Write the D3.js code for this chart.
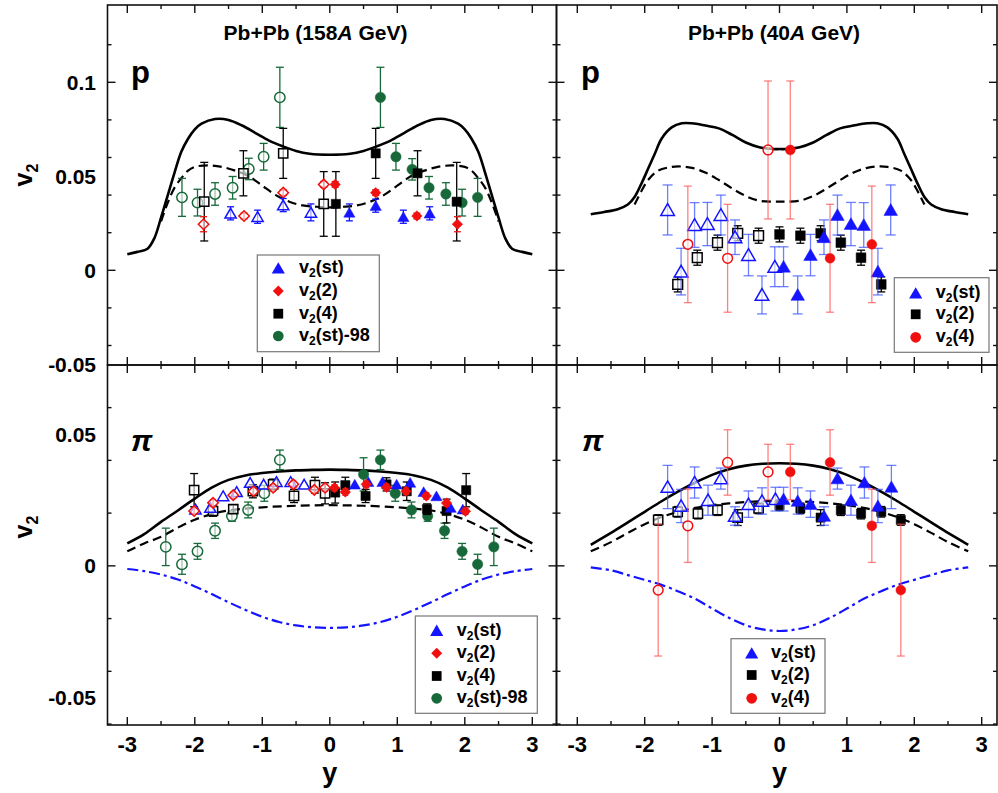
<!DOCTYPE html>
<html>
<head>
<meta charset="utf-8">
<script src="https://cdn.jsdelivr.net/npm/d3@7"></script>
<style>
  html, body { margin: 0; padding: 0; background: #fff; }
  svg text { font-family: "Liberation Sans", Arial, Helvetica, sans-serif; font-weight: bold; }
</style>
</head>
<body>
<svg id="fig" width="998" height="793"></svg>
<script>
// ---- tick labels ----
const xTickLabels = ["-3", "-2", "-1", "0", "1", "2", "3"];
const yTopTickLabels = ["-0.05", "0", "0.05", "0.1"];
const yBotTickLabels = ["-0.05", "0", "0.05"];

// ---- model curves: [rapidity y, v2] ----
const p158Solid = [[-3.0,0.0085],[-2.85,0.0098],[-2.7,0.0115],[-2.6,0.017],[-2.5,0.028],[-2.4,0.040],[-2.3,0.052],[-2.2,0.063],[-2.1,0.070],[-2.0,0.075],[-1.9,0.078],[-1.7,0.0805],[-1.5,0.080],[-1.3,0.077],[-1.1,0.073],[-0.9,0.069],[-0.7,0.066],[-0.5,0.0635],[-0.3,0.062],[0,0.0615],
  [0.3,0.062],[0.5,0.0635],[0.7,0.066],[0.9,0.069],[1.1,0.073],[1.3,0.077],[1.5,0.080],[1.7,0.0805],[1.9,0.078],[2.0,0.075],[2.1,0.070],[2.2,0.063],[2.3,0.052],[2.4,0.040],[2.5,0.028],[2.6,0.017],[2.7,0.0115],[2.85,0.0098],[3.0,0.0085]];
const p158Dash = [[-2.5,0.026],[-2.4,0.036],[-2.3,0.044],[-2.2,0.049],[-2.1,0.053],[-2.0,0.055],[-1.8,0.0558],[-1.6,0.055],[-1.4,0.053],[-1.2,0.050],[-1.0,0.045],[-0.8,0.040],[-0.6,0.0365],[-0.4,0.0345],[-0.2,0.0338],[0,0.0335],
  [0.2,0.0338],[0.4,0.0345],[0.6,0.0365],[0.8,0.040],[1.0,0.045],[1.2,0.050],[1.4,0.053],[1.6,0.055],[1.8,0.0558],[2.0,0.055],[2.1,0.053],[2.2,0.049],[2.3,0.044],[2.4,0.036],[2.5,0.026]];
const p40Solid = [[-2.8,0.0298],[-2.6,0.031],[-2.4,0.0325],[-2.25,0.035],[-2.15,0.039],[-2.05,0.046],[-1.95,0.054],[-1.85,0.062],[-1.75,0.070],[-1.6,0.076],[-1.45,0.0782],[-1.3,0.0782],[-1.1,0.077],[-0.9,0.0755],[-0.7,0.072],[-0.5,0.068],[-0.3,0.0655],[-0.1,0.0645],[0,0.0645],
  [0.1,0.0645],[0.3,0.0655],[0.5,0.068],[0.7,0.072],[0.9,0.0755],[1.1,0.077],[1.3,0.0782],[1.45,0.0782],[1.6,0.076],[1.75,0.070],[1.85,0.062],[1.95,0.054],[2.05,0.046],[2.15,0.039],[2.25,0.035],[2.4,0.0325],[2.6,0.031],[2.8,0.0298]];
const p40Dash = [[-2.15,0.035],[-2.05,0.042],[-1.95,0.048],[-1.8,0.053],[-1.6,0.055],[-1.45,0.0552],[-1.3,0.0545],[-1.1,0.052],[-0.9,0.048],[-0.7,0.0435],[-0.5,0.0395],[-0.3,0.037],[-0.1,0.0365],[0,0.0365],
  [0.1,0.0365],[0.3,0.037],[0.5,0.0395],[0.7,0.0435],[0.9,0.048],[1.1,0.052],[1.3,0.0545],[1.45,0.0552],[1.6,0.055],[1.8,0.053],[1.95,0.048],[2.05,0.042],[2.15,0.035]];
const pi158Solid = [[-3,0.0085],[-2.75,0.012],[-2.5,0.0167],[-2.25,0.021],[-2.0,0.0255],[-1.75,0.0297],[-1.5,0.0326],[-1.25,0.0343],[-1.0,0.0352],[-0.75,0.0358],[-0.5,0.0362],[-0.25,0.0364],[0,0.0365],
  [0.25,0.0364],[0.5,0.0362],[0.75,0.0358],[1.0,0.0352],[1.25,0.0343],[1.5,0.0326],[1.75,0.0297],[2.0,0.0255],[2.25,0.021],[2.5,0.0167],[2.75,0.012],[3,0.0085]];
const pi158Dash = [[-3,0.0055],[-2.75,0.0085],[-2.5,0.011],[-2.25,0.0145],[-2.0,0.0175],[-1.75,0.0196],[-1.5,0.021],[-1.25,0.0217],[-1.0,0.0222],[-0.5,0.0228],[0,0.023],
  [0.5,0.0228],[1.0,0.0222],[1.25,0.0217],[1.5,0.021],[1.75,0.0196],[2.0,0.0175],[2.25,0.0145],[2.5,0.011],[2.75,0.0085],[3,0.0055]];
const pi158DashDot = [[-3,-0.0012],[-2.75,-0.002],[-2.5,-0.0033],[-2.25,-0.0052],[-2.0,-0.0078],[-1.75,-0.0107],[-1.5,-0.0138],[-1.25,-0.0167],[-1.0,-0.0193],[-0.75,-0.0213],[-0.5,-0.0226],[-0.25,-0.0233],[0,-0.0235],
  [0.25,-0.0233],[0.5,-0.0226],[0.75,-0.0213],[1.0,-0.0193],[1.25,-0.0167],[1.5,-0.0138],[1.75,-0.0107],[2.0,-0.0078],[2.25,-0.0052],[2.5,-0.0033],[2.75,-0.002],[3,-0.0012]];
const pi40Solid = [[-2.8,0.008],[-2.5,0.0125],[-2.25,0.0165],[-2.0,0.0205],[-1.75,0.0245],[-1.5,0.0282],[-1.25,0.0316],[-1.0,0.0345],[-0.75,0.0366],[-0.5,0.038],[-0.25,0.0387],[0,0.0389],
  [0.25,0.0387],[0.5,0.038],[0.75,0.0366],[1.0,0.0345],[1.25,0.0316],[1.5,0.0282],[1.75,0.0245],[2.0,0.0205],[2.25,0.0165],[2.5,0.0125],[2.8,0.008]];
const pi40Dash = [[-2.8,0.0055],[-2.5,0.009],[-2.25,0.0125],[-2.0,0.0158],[-1.75,0.0185],[-1.5,0.0205],[-1.25,0.022],[-1.0,0.023],[-0.75,0.0237],[-0.5,0.0242],[-0.25,0.0245],[0,0.0246],
  [0.25,0.0245],[0.5,0.0242],[0.75,0.0237],[1.0,0.023],[1.25,0.022],[1.5,0.0205],[1.75,0.0185],[2.0,0.0158],[2.25,0.0125],[2.5,0.009],[2.8,0.0055]];
const pi40DashDot = [[-2.8,-0.0006],[-2.5,-0.0017],[-2.25,-0.0035],[-2.0,-0.0053],[-1.75,-0.0072],[-1.5,-0.0097],[-1.25,-0.0125],[-1.0,-0.0162],[-0.75,-0.0197],[-0.5,-0.0225],[-0.25,-0.0241],[0,-0.0247],
  [0.25,-0.0241],[0.5,-0.0225],[0.75,-0.0197],[1.0,-0.0162],[1.25,-0.0125],[1.5,-0.0097],[1.75,-0.0072],[2.0,-0.0053],[2.25,-0.0035],[2.5,-0.0017],[2.8,-0.0006]];

// ---- measured points: [rapidity y, v2, error]; points at y < 0 are reflected (open symbols) ----
const p158St = [[-1.47,0.0303,0.0035],[-1.07,0.0285,0.0035],[-0.69,0.0347,0.0035],[-0.28,0.0308,0.0045],[0.29,0.0308,0.0045],[0.68,0.0344,0.0035],[1.09,0.0285,0.0035],[1.48,0.0303,0.0035]];
const p158V22 = [[-1.87,0.0245,0.004],[-1.27,0.0289,0.0015],[-0.69,0.0413,0.0015],[-0.09,0.0457,0.0015],[0.08,0.0457,0.0015],[0.68,0.0413,0.0015],[1.29,0.0289,0.0015],[1.89,0.0245,0.004]];
const p158V24 = [[-1.86,0.0365,0.0209],[-1.28,0.0516,0.012],[-0.69,0.0622,0.0133],[-0.09,0.0353,0.0172],[0.09,0.0353,0.0172],[0.68,0.0622,0.0133],[1.30,0.0516,0.012],[1.88,0.0365,0.0209]];
const p158St98 = [[-2.19,0.0388,0.0101],[-1.96,0.036,0.0071],[-1.70,0.0406,0.006],[-1.44,0.0439,0.006],[-1.20,0.0539,0.0057],[-0.98,0.0604,0.0071],[-0.74,0.092,0.016],[0.75,0.092,0.016],[0.98,0.0604,0.0071],[1.22,0.0537,0.0057],[1.47,0.0439,0.006],[1.72,0.0406,0.006],[1.96,0.036,0.0071],[2.19,0.0388,0.0101]];

const p40St = [[-1.66,0.0321,0.0133],[-1.46,-0.0007,0.0124],[-1.26,0.0241,0.0119],[-1.07,0.0246,0.0115],[-0.87,0.0294,0.0106],[-0.66,0.0176,0.0092],[-0.46,0.0081,0.011],[-0.26,-0.0131,0.0101],[-0.07,0.0019,0.0106],[0.06,0.0019,0.0106],[0.27,-0.0131,0.0101],[0.46,0.0081,0.011],[0.66,0.0176,0.0092],[0.86,0.0294,0.0106],[1.06,0.0246,0.0115],[1.25,0.0241,0.0119],[1.46,-0.0007,0.0124],[1.65,0.0321,0.0133]];
const p40V22 = [[-1.51,-0.0075,0.004],[-1.22,0.0067,0.004],[-0.92,0.0147,0.004],[-0.62,0.0197,0.004],[-0.31,0.0184,0.004],[0,0.0191,0.004],[0.31,0.0184,0.004],[0.61,0.0197,0.004],[0.91,0.0147,0.004],[1.21,0.0067,0.004],[1.51,-0.0075,0.004]];
const p40V24 = [[-1.36,0.0138,0.031],[-0.77,0.0064,0.0287],[-0.17,0.064,0.0367],[0.16,0.064,0.0367],[0.75,0.0064,0.0287],[1.37,0.0138,0.031]];

const pi158St = [[-1.99,0.0215,0],[-1.77,0.0221,0],[-1.58,0.0265,0],[-1.38,0.0281,0],[-1.18,0.0316,0],[-0.98,0.0309,0],[-0.79,0.0319,0],[-0.58,0.0319,0],[-0.38,0.0309,0],[0.37,0.0309,0],[0.57,0.0319,0],[0.78,0.0319,0],[0.99,0.0309,0],[1.19,0.0316,0],[1.39,0.0281,0],[1.58,0.0265,0],[1.79,0.0221,0],[1.97,0.0215,0]];
const pi158V22 = [[-2.01,0.0208,0.0012],[-1.73,0.0239,0.0012],[-1.43,0.0268,0.0012],[-1.13,0.0283,0.0012],[-0.84,0.0296,0.0012],[-0.54,0.0309,0.0012],[-0.23,0.0288,0.0012],[-0.07,0.0296,0.0012],[0.07,0.0296,0.0012],[0.23,0.028,0.0012],[0.54,0.0309,0.0012],[0.84,0.0298,0.0012],[1.13,0.0283,0.0012],[1.43,0.0265,0.0012],[1.73,0.0238,0.0012],[2.01,0.0207,0.0012]];
const pi158V24 = [[-2.01,0.0287,0.0063],[-1.73,0.0208,0.002],[-1.43,0.0215,0.0015],[-1.14,0.0283,0.0025],[-0.84,0.0309,0.002],[-0.53,0.0265,0.0025],[-0.22,0.0306,0.003],[-0.07,0.0275,0.004],[0.08,0.0278,0.004],[0.23,0.0306,0.003],[0.53,0.0265,0.0025],[0.84,0.0309,0.0025],[1.14,0.0283,0.0035],[1.44,0.0215,0.002],[1.73,0.0208,0.0045],[2.02,0.0287,0.0063]];
const pi158St98 = [[-2.43,0.0072,0.0071],[-2.19,0.0006,0.0038],[-1.96,0.0055,0.003],[-1.70,0.0133,0.0029],[-1.45,0.0189,0.002],[-1.21,0.0212,0.003],[-0.97,0.0275,0.003],[-0.74,0.0402,0.0037],[0.50,0.0347,0.0063],[0.75,0.0402,0.0037],[0.97,0.0275,0.003],[1.21,0.0212,0.003],[1.45,0.0189,0.002],[1.70,0.0133,0.0029],[1.96,0.0055,0.003],[2.19,0.0006,0.0038],[2.43,0.0072,0.0071]];

const pi40St = [[-1.66,0.0299,0.0082],[-1.46,0.0227,0.0063],[-1.26,0.0316,0.0059],[-1.06,0.0249,0.0057],[-0.87,0.0331,0.004],[-0.66,0.0189,0.0035],[-0.46,0.0234,0.005],[-0.26,0.0246,0.005],[-0.06,0.0253,0.0045],[0.06,0.0253,0.0045],[0.27,0.0246,0.005],[0.46,0.0234,0.005],[0.66,0.0189,0.0035],[0.86,0.0331,0.004],[1.06,0.0249,0.0057],[1.26,0.0316,0.0059],[1.46,0.0227,0.0063],[1.66,0.0299,0.0082]];
const pi40V22 = [[-1.80,0.0174,0.002],[-1.51,0.0205,0.002],[-1.21,0.0198,0.002],[-0.92,0.0211,0.002],[-0.62,0.0183,0.003],[-0.31,0.0218,0.002],[0,0.023,0.002],[0.31,0.0218,0.002],[0.61,0.0183,0.003],[0.91,0.0211,0.002],[1.21,0.0198,0.002],[1.51,0.0205,0.002],[1.80,0.0174,0.002]];
const pi40V24 = [[-1.80,-0.0092,0.025],[-1.36,0.0152,0.0139],[-0.77,0.0392,0.0124],[-0.17,0.0356,0.0105],[0.16,0.0356,0.0105],[0.75,0.0392,0.0124],[1.37,0.0152,0.0139],[1.80,-0.0092,0.025]];

// ---- styling ----
const BLUE = "#1414ff", RED = "#f01010", GREEN = "#17693a", BLACK = "#000";
const FONT_TICK = 21;

const svg = d3.select("#fig");

// panel frame edges (pixels)
const X0 = 107.5, XM = 556.5, X1 = 997, Y0 = 5, YM = 365, Y1 = 725;

// scales
const xL = d3.scaleLinear().domain([-3, 3]).range([127.3, 532.3]);
const xR = d3.scaleLinear().domain([-3, 3]).range([577.3, 981.7]);
const yTop = d3.scaleLinear().domain([-0.05, 0.1]).range([364.3, 82.3]);
const yBot = d3.scaleLinear().domain([-0.05, 0.05]).range([697.7, 434]);

function isMajor(v, step) { return Math.abs(v / step - Math.round(v / step)) < 1e-6; }

function drawFrame(xs, ys, l, r, t, b) {
  const g = svg.append("g");
  g.append("rect").attr("x", l).attr("y", t).attr("width", r - l).attr("height", b - t)
    .attr("fill", "none").attr("stroke", "#111").attr("stroke-width", 1.6);
  const xt = d3.ticks(xs.invert(l), xs.invert(r), 14).filter(v => xs(v) > l + 2 && xs(v) < r - 2);
  xt.forEach(v => {
    const len = isMajor(v, 1) ? 8 : 4;
    const px = xs(v);
    g.append("line").attr("x1", px).attr("x2", px).attr("y1", b).attr("y2", b - len).attr("stroke", "#111").attr("stroke-width", 1.4);
    g.append("line").attr("x1", px).attr("x2", px).attr("y1", t).attr("y2", t + len).attr("stroke", "#111").attr("stroke-width", 1.4);
  });
  const yt = d3.ticks(ys.invert(b), ys.invert(t), 8).filter(v => ys(v) > t + 2.5 && ys(v) < b + 1);
  yt.forEach(v => {
    const len = isMajor(v, 0.05) ? 8 : 4;
    const py = ys(v);
    g.append("line").attr("x1", l).attr("x2", l + len).attr("y1", py).attr("y2", py).attr("stroke", "#111").attr("stroke-width", 1.4);
    g.append("line").attr("x1", r).attr("x2", r - len).attr("y1", py).attr("y2", py).attr("stroke", "#111").attr("stroke-width", 1.4);
  });
}

drawFrame(xL, yTop, X0, XM, Y0, YM);
drawFrame(xR, yTop, XM, X1, Y0, YM);
drawFrame(xL, yBot, X0, XM, YM, Y1);
drawFrame(xR, yBot, XM, X1, YM, Y1);

// y tick labels
function yLabels(ys, labels) {
  labels.forEach(s => {
    svg.append("text").attr("x", 96).attr("y", ys(+s)).attr("dy", "0.36em")
      .attr("text-anchor", "end").attr("font-size", FONT_TICK).text(s);
  });
}
yLabels(yTop, yTopTickLabels);
yLabels(yBot, yBotTickLabels);

// x tick labels
[xL, xR].forEach(xs => {
  xTickLabels.forEach(s => {
    svg.append("text").attr("x", xs(+s)).attr("y", 752)
      .attr("text-anchor", "middle").attr("font-size", 22).text(s);
  });
  svg.append("text").attr("x", xs(0)).attr("y", 782).attr("text-anchor", "middle")
    .attr("font-size", 27).text("y");
});

// v2 axis titles
[175, 527].forEach(cy => {
  const t = svg.append("text").attr("transform", `translate(32,${cy}) rotate(-90)`)
    .attr("text-anchor", "middle").attr("font-size", 25);
  t.append("tspan").text("v");
  t.append("tspan").attr("font-size", 16).attr("dy", 6).text("2");
});

// panel titles
function title(cx, energy) {
  const t = svg.append("text").attr("x", cx).attr("y", 40).attr("text-anchor", "middle").attr("font-size", 21);
  t.append("tspan").text(`Pb+Pb (${energy}`);
  t.append("tspan").attr("font-style", "italic").text("A");
  t.append("tspan").text(" GeV)");
}
title(315.5, "158");
title(774, "40");

// particle labels
svg.append("text").attr("x", 131).attr("y", 83).attr("font-size", 31).text("p");
svg.append("text").attr("x", 581).attr("y", 83).attr("font-size", 31).text("p");
svg.append("text").attr("x", 131).attr("y", 451).attr("font-size", 30).attr("font-style", "italic").text("π");
svg.append("text").attr("x", 582).attr("y", 451).attr("font-size", 30).attr("font-style", "italic").text("π");

// model curves
function curve(xs, ys, data, style) {
  const line = d3.line().x(d => xs(d[0])).y(d => ys(d[1])).curve(d3.curveCatmullRom.alpha(0.5));
  const p = svg.append("path").attr("d", line(data)).attr("fill", "none")
    .attr("stroke", style.color).attr("stroke-width", style.width).attr("stroke-linecap", "butt");
  if (style.dash) p.attr("stroke-dasharray", style.dash);
}
const SOLID = { color: BLACK, width: 2.6 };
const DASH = { color: BLACK, width: 2.2, dash: "9,5" };
const DASHDOT = { color: BLUE, width: 2.2, dash: "11,4,3,4" };

curve(xL, yTop, p158Solid, SOLID);
curve(xL, yTop, p158Dash, DASH);
curve(xR, yTop, p40Solid, SOLID);
curve(xR, yTop, p40Dash, DASH);
curve(xL, yBot, pi158Solid, SOLID);
curve(xL, yBot, pi158Dash, DASH);
curve(xL, yBot, pi158DashDot, DASHDOT);
curve(xR, yBot, pi40Solid, SOLID);
curve(xR, yBot, pi40Dash, DASH);
curve(xR, yBot, pi40DashDot, DASHDOT);

// symbols
const SYM = {
  tri: d3.symbolTriangle,
  sq: d3.symbolSquare,
  dia: d3.symbolSquare,
  circ: d3.symbolCircle
};
function symbolPath(kind, size) { return d3.symbol().type(SYM[kind]).size(size)(); }

function points(xs, ys, data, opt) {
  const g = svg.append("g");
  const cap = opt.cap || 4;
  data.forEach(d => {
    const px = xs(d[0]), py = ys(d[1]);
    if (d[2] > 0) {
      const yHi = ys(d[1] + d[2]), yLo = ys(d[1] - d[2]);
      const eb = g.append("g").attr("stroke", opt.barColor || opt.color)
        .attr("stroke-width", opt.barWidth || 1.3).attr("stroke-opacity", opt.barOpacity || 1);
      eb.append("line").attr("x1", px).attr("x2", px).attr("y1", yHi).attr("y2", yLo);
      eb.append("line").attr("x1", px - cap).attr("x2", px + cap).attr("y1", yHi).attr("y2", yHi);
      eb.append("line").attr("x1", px - cap).attr("x2", px + cap).attr("y1", yLo).attr("y2", yLo);
    }
  });
  data.forEach(d => {
    const px = xs(d[0]), py = ys(d[1]);
    const open = d[0] < 0;
    const rot = opt.kind === "dia" ? " rotate(45)" : "";
    const dy = opt.kind === "tri" ? 1.5 : 0;
    g.append("path").attr("d", symbolPath(opt.kind, opt.size))
      .attr("transform", `translate(${px},${py + dy})${rot}`)
      .attr("fill", open ? "#fff" : opt.color)
      .attr("fill-opacity", open ? 0.6 : 1)
      .attr("stroke", opt.color).attr("stroke-width", open ? 1.5 : 0.5);
  });
}

// 158A GeV protons
points(xL, yTop, p158St98, { kind: "circ", size: 85, color: GREEN, cap: 4 });
points(xL, yTop, p158V24, { kind: "sq", size: 85, color: BLACK, cap: 4 });
points(xL, yTop, p158V22, { kind: "dia", size: 55, color: RED, cap: 3.5 });
points(xL, yTop, p158St, { kind: "tri", size: 55, color: BLUE, cap: 3.5 });
// 40A GeV protons
points(xR, yTop, p40V22, { kind: "sq", size: 95, color: BLACK, cap: 4 });
points(xR, yTop, p40St, { kind: "tri", size: 80, color: BLUE, cap: 5, barColor: "#3d55ff", barOpacity: 0.75 });
points(xR, yTop, p40V24, { kind: "circ", size: 75, color: RED, cap: 4, barColor: "#ff4d4d", barOpacity: 0.7 });
// 158A GeV pions
points(xL, yBot, pi158St98, { kind: "circ", size: 85, color: GREEN, cap: 4 });
points(xL, yBot, pi158V24, { kind: "sq", size: 85, color: BLACK, cap: 4 });
points(xL, yBot, pi158St, { kind: "tri", size: 55, color: BLUE, cap: 3 });
points(xL, yBot, pi158V22, { kind: "dia", size: 55, color: RED, cap: 3 });
// 40A GeV pions
points(xR, yBot, pi40V22, { kind: "sq", size: 85, color: BLACK, cap: 4 });
points(xR, yBot, pi40St, { kind: "tri", size: 75, color: BLUE, cap: 5, barColor: "#3d55ff", barOpacity: 0.75 });
points(xR, yBot, pi40V24, { kind: "circ", size: 75, color: RED, cap: 4, barColor: "#ff4d4d", barOpacity: 0.7 });

// legends
const LEG_ST = { main: "v", sub: "2", rest: "(st)", kind: "tri", color: BLUE, size: 75 };
const LEG_V22_RED = { main: "v", sub: "2", rest: "(2)", kind: "dia", color: RED, size: 60 };
const LEG_V22_BLK = { main: "v", sub: "2", rest: "(2)", kind: "sq", color: BLACK, size: 95 };
const LEG_V24_BLK = { main: "v", sub: "2", rest: "(4)", kind: "sq", color: BLACK, size: 95 };
const LEG_V24_RED = { main: "v", sub: "2", rest: "(4)", kind: "circ", color: RED, size: 90 };
const LEG_98 = { main: "v", sub: "2", rest: "(st)-98", kind: "circ", color: GREEN, size: 90 };

function legend(box, rows, items, mx, tx) {
  const g = svg.append("g");
  g.append("rect").attr("x", box[0]).attr("y", box[1]).attr("width", box[2] - box[0]).attr("height", box[3] - box[1])
    .attr("fill", "#fff").attr("stroke", "#777").attr("stroke-width", 1.2);
  items.forEach((it, i) => {
    const cy = rows[i];
    const rot = it.kind === "dia" ? " rotate(45)" : "";
    g.append("path").attr("d", symbolPath(it.kind, it.size))
      .attr("transform", `translate(${mx},${cy + (it.kind === "tri" ? 1.5 : 0)})${rot}`).attr("fill", it.color);
    const t = g.append("text").attr("x", tx).attr("y", cy + 5).attr("font-size", 18);
    t.append("tspan").text(it.main);
    t.append("tspan").attr("font-size", 12).attr("dy", 4).text(it.sub);
    t.append("tspan").attr("dy", -4).text(it.rest);
  });
}
legend([257.3, 255, 379.3, 351.7], [268.3, 291, 313.7, 336], [LEG_ST, LEG_V22_RED, LEG_V24_BLK, LEG_98], 278.3, 299);
legend([894.3, 277.7, 989, 352.3], [293.3, 314.3, 337.3], [LEG_ST, LEG_V22_BLK, LEG_V24_RED], 915.7, 935.7);
legend([415.3, 616, 537.3, 713.3], [630.7, 653.3, 676, 698.3], [LEG_ST, LEG_V22_RED, LEG_V24_BLK, LEG_98], 436.7, 456.7);
legend([731, 638.7, 825, 713.3], [653.3, 675, 698.3], [LEG_ST, LEG_V22_BLK, LEG_V24_RED], 751.7, 771);
</script>
</body>
</html>
